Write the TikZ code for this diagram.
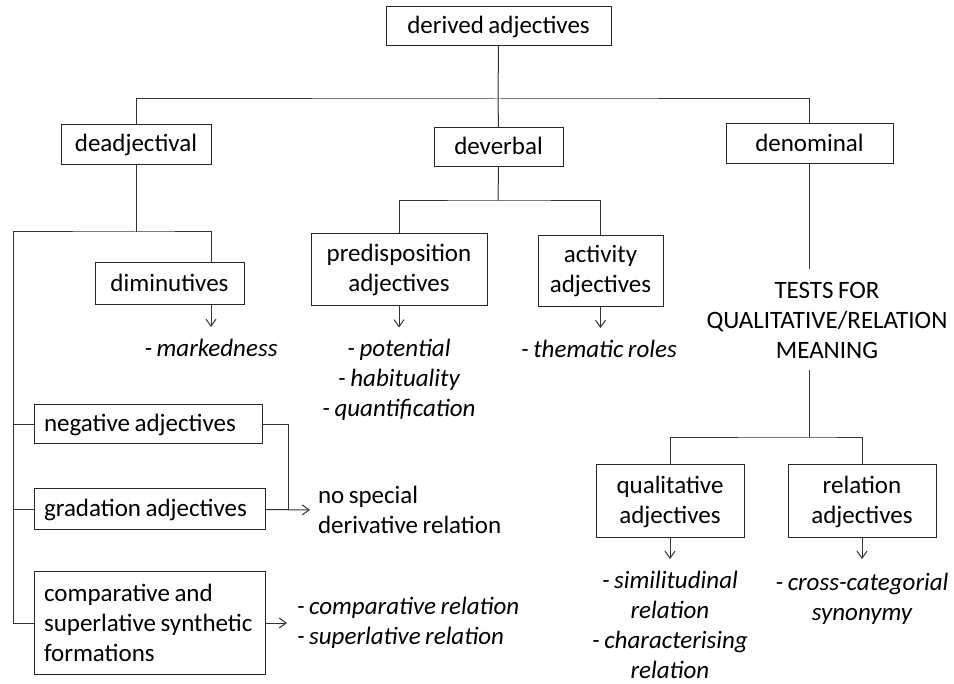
\documentclass[tikz,border=0pt]{standalone}
\usepackage{fontspec}
\setmainfont{Carlito}[WordSpace=0.8]
\usetikzlibrary{arrows.meta,calc}
\begin{document}
\begin{tikzpicture}[x=1pt,y=-1pt,
  every node/.style={font=\fontsize{25}{30}\selectfont, inner sep=0pt, outer sep=0pt},
  box/.style={draw=black!85, line width=1pt, align=center},
  one/.style={text height=17pt, text depth=2pt},
  lbox/.style={draw=black!85, line width=1pt, align=flush left, inner xsep=10pt},
  note/.style={align=center, font=\fontsize{25}{30}\selectfont\itshape},
  conn/.style={draw=black!80, line width=1pt},
  arr/.style={conn, -{Straight Barb[length=7pt,width=10pt,line width=1pt]}}
]
\useasboundingbox (0,0) rectangle (954,684);

% boxes
\node[box, one, minimum width=225pt, minimum height=39pt] (root) at (498.5,26.5) {derived adjectives};
\node[box, one, minimum width=150pt, minimum height=40pt] (dadj) at (136,144.3) {deadjectival};
\node[box, one, minimum width=129pt, minimum height=39pt] (dverb) at (498.5,147.5) {deverbal};
\node[box, one, minimum width=167pt, minimum height=40pt] (dnom) at (809.5,144) {denominal};
\node[box, one, minimum width=149pt, minimum height=42pt] (dim) at (169.5,284) {diminutives};
\node[box, minimum width=176pt, minimum height=72pt] (pred) at (399,269.5) {predisposition\\adjectives};
\node[box, minimum width=125pt, minimum height=71pt] (act) at (600.5,271.5) {activity\\adjectives};
\node[align=center] (tests) at (827,320.5) {TESTS FOR\\QUALITATIVE/RELATION\\MEANING};
\node[box, minimum width=148pt, minimum height=73pt] (qual) at (670,501.5) {qualitative\\adjectives};
\node[box, minimum width=148pt, minimum height=73pt] (rel) at (862,501.5) {relation\\adjectives};
\node[lbox, one, text width=208pt, minimum height=39pt] (neg) at (148,424.5) {negative adjectives};
\node[lbox, one, text width=211pt, minimum height=41pt] (grad) at (149.5,509.5) {gradation adjectives};
\node[lbox, text width=211pt, minimum height=102pt] (comp) at (149.5,623) {\mbox{comparative and}\\\mbox{superlative synthetic}\\formations};

% notes
\node[note] (mark) at (211,348) {- markedness};
\node[note] (predn) at (399,380) {- potential\\- habituality\\- quantification};
\node[note] (actn) at (599,349) {- thematic roles};
\node[note] (qualn) at (670,625) {- similitudinal\\relation\\- characterising\\relation};
\node[note] (reln) at (862,599) {- cross-categorial\\synonymy};
\node[align=flush left, anchor=west] (nsd) at (318,510) {no special\\derivative relation};
\node[note, align=flush left, anchor=west] (compn) at (297,623) {- comparative relation\\- superlative relation};

% coordinates
\coordinate (rj) at (498,99);
\coordinate (lj) at (136,232);
\coordinate (lx) at (13,232);
\coordinate (vj) at (498,201);
\coordinate (tj) at (809,438);
\coordinate (tt) at (809,269);
\coordinate (tb) at (809,370);
\coordinate (nj) at (288,424.5);

% top level
\draw[conn] (root.south) -- (rj);
\draw[conn] (dadj.north -| lj) |- (rj) -| (dnom.north -| tj);
\draw[conn] (rj) -- (dverb.north);

% deadjectival branch
\draw[conn] (dadj.south -| lj) -- (lj);
\draw[conn] (lx) -- (lj) -| (dim.north -| mark);
\draw[arr] (dim.south -| mark) -- ++(0,22);
\draw[conn] (lx) |- (comp.west);
\draw[conn] (neg.west) -- (neg.west -| lx);
\draw[conn] (grad.west) -- (grad.west -| lx);
\draw[conn] (neg.east) -- (nj) |- (grad.east);
\draw[arr] (grad.east) -- ($(nsd.west)+(-8,0)$);
\draw[arr] (comp.east) -- ($(compn.west)+(-10,0)$);

% deverbal branch
\draw[conn] (dverb.south) -- (vj);
\draw[conn] (pred.north) |- (vj) -| (act.north);
\draw[arr] (pred.south) -- ++(0,22);
\draw[arr] (act.south) -- ++(0,21);

% denominal branch
\draw[conn] (dnom.south -| tt) -- (tt);
\draw[conn] (tb) -- (tj);
\draw[conn] (qual.north) |- (tj) -| (rel.north);
\draw[arr] (qual.south) -- ++(0,21);
\draw[arr] (rel.south) -- ++(0,21);
\end{tikzpicture}
\end{document}
